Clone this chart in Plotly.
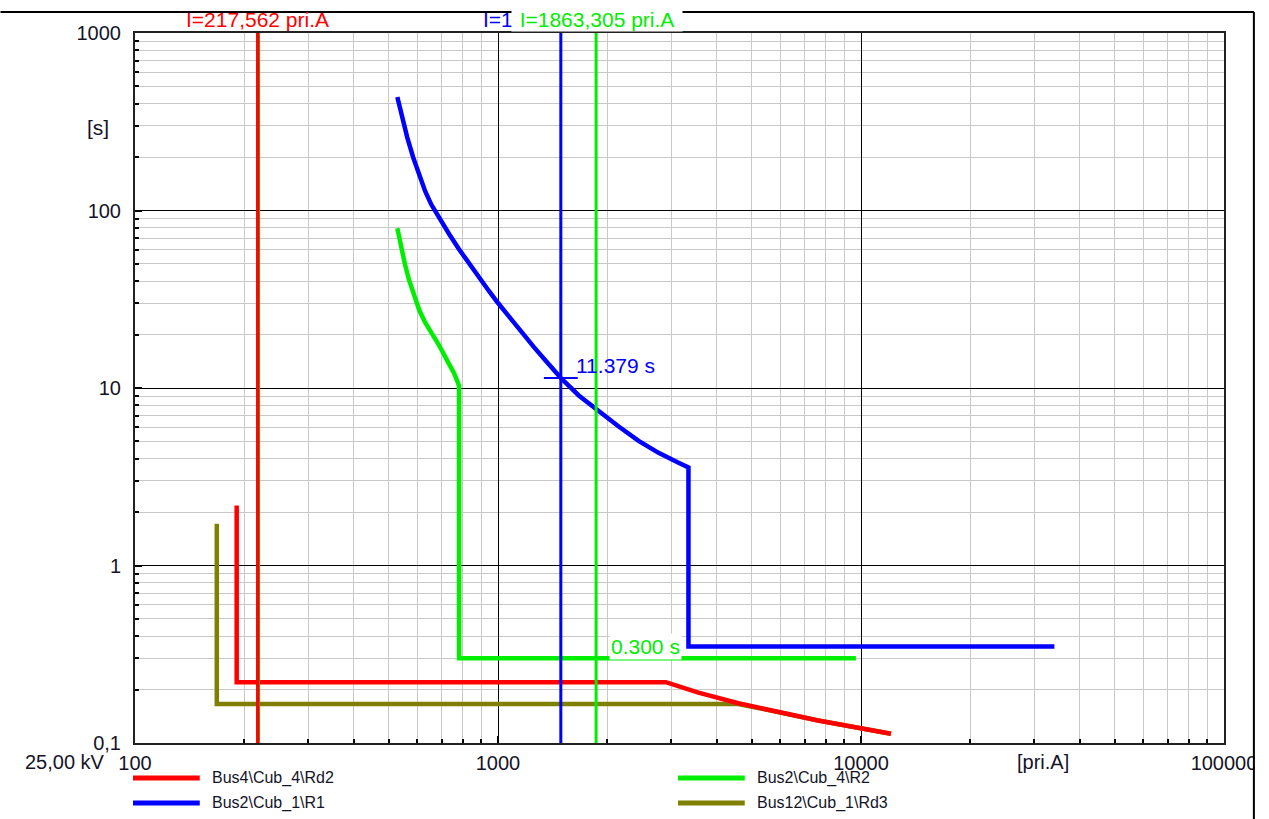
import numpy as np
import plotly.graph_objects as go

# Tripping characteristics, current in [pri.A], time in [s]
rd2_I = [190.6, 190.6, 2900, 3566, 4593, 5916, 7620, 9812, 12090]
rd2_t = [2.18, 0.22, 0.22, 0.192, 0.1675, 0.149, 0.134, 0.122, 0.1127]

r1_I = [528, 545, 562, 584, 607, 630, 655, 688, 734, 781, 832, 887, 945, 994,
        1072, 1157, 1256, 1363, 1490, 1669, 1894, 2150, 2440, 2769, 3143, 3347,
        3347, 34100]
r1_t = [436, 332, 259, 199, 157, 128.5, 108, 90.5, 73.5, 60.5, 50.1, 41.8, 35.1, 30.6,
        25.2, 20.9, 17.0, 14.0, 11.379, 9.08, 7.38, 6.07, 5.04, 4.31, 3.79, 3.57,
        0.35, 0.35]

r2_I = [528, 541, 555, 569, 588, 607, 630, 655, 688, 724, 757, 781, 781, 9680]
r2_t = [79.5, 61.3, 49.1, 40.5, 32.4, 27.4, 23.4, 20.6, 17.4, 14.3, 12.1, 10.3, 0.30, 0.30]

rd3_I = [168, 168, 4593, 5916, 7620, 9812, 12090]
rd3_t = [1.72, 0.166, 0.166, 0.149, 0.134, 0.122, 0.1127]

# cursors
cursor_rd2 = 217.562
cursor_rd3 = 219.0
cursor_r1 = 1489.6
cursor_r2 = 1863.305
r1_at_cursor = 11.379
r2_at_cursor = 0.300

x_major = [100, 1000, 10000, 100000]
x_major_text = ['100', '1000', '10000', '100000']
y_major = [0.1, 1, 10, 100, 1000]
y_major_text = ['0,1', '1', '10', '100', '1000']

legend_names = ['Bus4\\Cub_4\\Rd2', 'Bus2\\Cub_1\\R1', 'Bus2\\Cub_4\\R2', 'Bus12\\Cub_1\\Rd3']

RED, BLUE, GREEN, OLIVE = '#ff0000', '#0000ff', '#00ee00', '#808000'
FONT = 'Liberation Sans, Arial, sans-serif'
TXT = '#141428'

W, H = 1269, 819
L, R, T, B = 135, 41, 33, 76


def px(x):
    return (x - L) / (W - L - R)


def py(y):
    return (H - B - y) / (H - T - B)


def comma(v):
    return f"{v:.3f}".replace('.', ',')


fig = go.Figure()

# curves
for xs, ys, col in [(rd3_I, rd3_t, OLIVE), (r2_I, r2_t, GREEN),
                    (r1_I, r1_t, BLUE), (rd2_I, rd2_t, RED)]:
    fig.add_trace(go.Scatter(x=xs, y=ys, mode='lines',
                             line=dict(color=col, width=4.5), hoverinfo='skip'))

# vertical cursor lines
for xc, col, w in [(cursor_rd3, OLIVE, 3), (cursor_rd2, RED, 3),
                   (cursor_r1, BLUE, 3), (cursor_r2, GREEN, 3)]:
    fig.add_trace(go.Scatter(x=[xc, xc], y=[y_major[0], y_major[-1]], mode='lines',
                             line=dict(color=col, width=w), hoverinfo='skip'))

# small crosshair on R1 at the cursor
half = 10 ** (17 / 364)
fig.add_trace(go.Scatter(x=[cursor_r1 / half, cursor_r1 * half],
                         y=[r1_at_cursor, r1_at_cursor], mode='lines',
                         line=dict(color=BLUE, width=2), hoverinfo='skip'))

minor_x = [m * 10 ** d for d in range(2, 5) for m in range(2, 10)]
minor_y = [m * 10.0 ** d for d in range(-1, 3) for m in range(2, 10)]

axis_common = dict(
    type='log', showline=True, linecolor='#222222', linewidth=2, mirror=True,
    showgrid=True, gridcolor='black', gridwidth=1, zeroline=False,
    ticks='inside', ticklen=7, tickcolor='black', tickwidth=1.5,
    tickfont=dict(family=FONT, size=20, color=TXT),
)

fig.update_layout(
    width=W, height=H,
    margin=dict(l=L, r=R, t=T, b=B),
    paper_bgcolor='white', plot_bgcolor='white',
    showlegend=False,
    font=dict(family=FONT, color=TXT),
    xaxis=dict(range=[2, 5], tickmode='array', tickvals=x_major, ticktext=x_major_text,
               ticklabelstandoff=1,
               minor=dict(tickmode='array', tickvals=minor_x, showgrid=True,
                          gridcolor='#c8c8c8', gridwidth=1, ticks='inside',
                          ticklen=4, tickcolor='black'),
               **axis_common),
    yaxis=dict(range=[-1, 3], tickmode='array', tickvals=y_major, ticktext=y_major_text,
               ticklabelstandoff=8,
               minor=dict(tickmode='array', tickvals=minor_y, showgrid=True,
                          gridcolor='#c8c8c8', gridwidth=1, ticks='inside',
                          ticklen=4, tickcolor='black'),
               **axis_common),
)


def label(x, y, text, size=21, color=TXT, xref='paper', yref='paper', xanchor='center', **kw):
    return dict(x=x, y=y, xref=xref, yref=yref, text=text, showarrow=False,
                xanchor=xanchor, yanchor='middle', font=dict(size=size, color=color), **kw)


ann = []
# cursor labels on top (green one hides most of the blue one, as in the original)
ann.append(label(np.log10(cursor_rd2), py(19), f"I={comma(cursor_rd2)} pri.A",
                 color=RED, xref='x'))
ann.append(label(np.log10(cursor_r1), py(19), f"I={comma(cursor_r1)} pri.A",
                 color=BLUE, xref='x'))
ann.append(label(np.log10(cursor_r2), py(19), f"I={comma(cursor_r2)} pri.A",
                 color=GREEN, xref='x', bgcolor='white', borderpad=0,
                 width=170, xshift=1))
# time readouts
ann.append(label(np.log10(cursor_r1), np.log10(r1_at_cursor), f"{r1_at_cursor:.3f} s",
                 color=BLUE, xref='x', yref='y', xanchor='left', xshift=13, yshift=13))
ann.append(label(np.log10(cursor_r2), np.log10(r2_at_cursor), f"{r2_at_cursor:.3f} s",
                 color=GREEN, xref='x', yref='y', xanchor='left', xshift=13, yshift=12,
                 bgcolor='white', borderpad=1))
# axis captions
ann.append(label(px(98), py(127), '[s]'))
ann.append(label(px(1046), py(762), '[pri.A]', size=20))
ann.append(label(px(65), py(762), '25,00 kV', size=20))

shapes = []
# legend (2 x 2)
legend_pos = [(133, 778), (133, 803), (680, 778), (680, 803)]
legend_cols = [RED, BLUE, GREEN, OLIVE]
for name, col, (lx, ly) in zip(legend_names, legend_cols, legend_pos):
    shapes.append(dict(type='line', xref='paper', yref='paper',
                       x0=px(lx), x1=px(lx + 67), y0=py(ly), y1=py(ly),
                       line=dict(color=col, width=5)))
    ann.append(label(px(lx + 77), py(ly), name, size=16, xanchor='left'))

# window frame
shapes.append(dict(type='rect', xref='paper', yref='paper', layer='above',
                   x0=px(1259), x1=px(W + 5), y0=py(H + 5), y1=py(-5),
                   fillcolor='white', line=dict(width=0)))
shapes.append(dict(type='line', xref='paper', yref='paper', layer='above',
                   x0=px(0), x1=px(1258), y0=py(12), y1=py(12),
                   line=dict(color='black', width=2)))
shapes.append(dict(type='line', xref='paper', yref='paper', layer='above',
                   x0=px(1258), x1=px(1258), y0=py(12), y1=py(H + 5),
                   line=dict(color='black', width=2)))

fig.update_layout(annotations=ann, shapes=shapes)

fig.write_html("out.html", config={'displayModeBar': False},
               post_script="document.body.style.margin='0px';")
